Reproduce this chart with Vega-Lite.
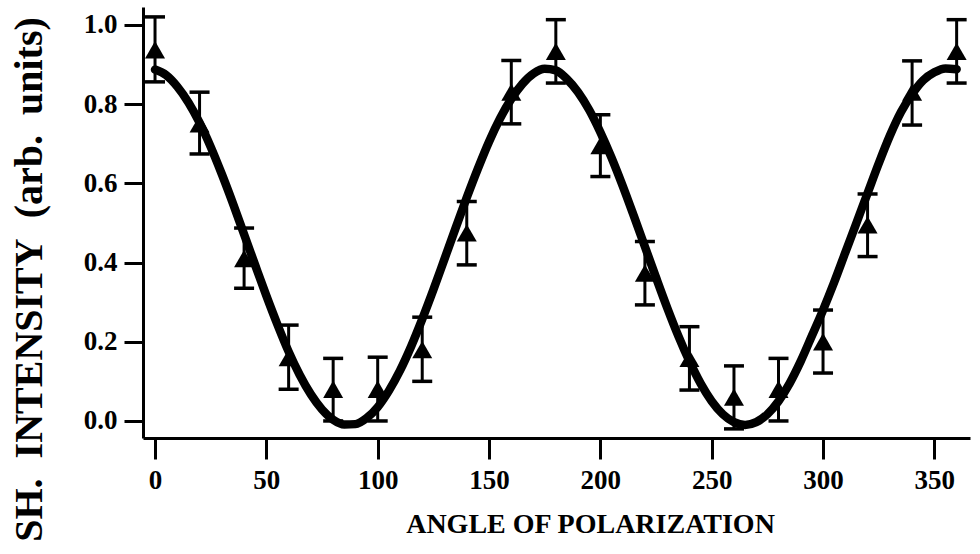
{
  "$schema": "https://vega.github.io/schema/vega-lite/v6.json",
  "autosize": {"type": "none"},
  "padding": {"left": 143, "top": 7, "right": 10, "bottom": 116},
  "width": 827,
  "height": 431,
  "background": "white",
  "config": {
    "view": {"stroke": null},
    "font": "Liberation Serif",
    "axis": {
      "grid": false,
      "domainColor": "black",
      "domainWidth": 3,
      "tickColor": "black",
      "tickWidth": 3,
      "labelColor": "black",
      "labelFont": "Liberation Serif",
      "labelFontWeight": "bold",
      "labelFontSize": 27,
      "titleColor": "black",
      "titleFont": "Liberation Serif",
      "titleFontWeight": "bold",
      "labelFlush": false,
      "labelOverlap": false
    }
  },
  "datasets": {
    "points": [
      {"angle": 0, "intensity": 0.937, "lo": 0.856, "hi": 1.02},
      {"angle": 20, "intensity": 0.75, "lo": 0.674, "hi": 0.83},
      {"angle": 40, "intensity": 0.41, "lo": 0.335, "hi": 0.487},
      {"angle": 60, "intensity": 0.16, "lo": 0.08, "hi": 0.242},
      {"angle": 80, "intensity": 0.08, "lo": 0.0, "hi": 0.158},
      {"angle": 100, "intensity": 0.08, "lo": 0.0, "hi": 0.161},
      {"angle": 120, "intensity": 0.18, "lo": 0.1, "hi": 0.262},
      {"angle": 140, "intensity": 0.475, "lo": 0.394, "hi": 0.554},
      {"angle": 160, "intensity": 0.83, "lo": 0.75, "hi": 0.91},
      {"angle": 180, "intensity": 0.933, "lo": 0.853, "hi": 1.013},
      {"angle": 200, "intensity": 0.695, "lo": 0.617, "hi": 0.773},
      {"angle": 220, "intensity": 0.373, "lo": 0.293, "hi": 0.453},
      {"angle": 240, "intensity": 0.158, "lo": 0.078, "hi": 0.238},
      {"angle": 260, "intensity": 0.06, "lo": -0.02, "hi": 0.139},
      {"angle": 280, "intensity": 0.08, "lo": 0.0, "hi": 0.158},
      {"angle": 300, "intensity": 0.2, "lo": 0.121, "hi": 0.28},
      {"angle": 320, "intensity": 0.495, "lo": 0.415, "hi": 0.573},
      {"angle": 340, "intensity": 0.83, "lo": 0.747, "hi": 0.909},
      {"angle": 360, "intensity": 0.933, "lo": 0.853, "hi": 1.013}
    ],
    "curve": [
      {"angle": 0, "fit": 0.887}, {"angle": 5, "fit": 0.873}, {"angle": 10, "fit": 0.844},
      {"angle": 15, "fit": 0.804}, {"angle": 20, "fit": 0.753}, {"angle": 25, "fit": 0.692},
      {"angle": 30, "fit": 0.623}, {"angle": 35, "fit": 0.549}, {"angle": 40, "fit": 0.471},
      {"angle": 45, "fit": 0.393}, {"angle": 50, "fit": 0.316}, {"angle": 55, "fit": 0.243},
      {"angle": 60, "fit": 0.175}, {"angle": 65, "fit": 0.116}, {"angle": 70, "fit": 0.067},
      {"angle": 75, "fit": 0.029}, {"angle": 80, "fit": 0.003}, {"angle": 85, "fit": -0.009},
      {"angle": 90, "fit": -0.008}, {"angle": 95, "fit": 0.007}, {"angle": 100, "fit": 0.035},
      {"angle": 105, "fit": 0.076}, {"angle": 110, "fit": 0.127}, {"angle": 115, "fit": 0.188},
      {"angle": 120, "fit": 0.257}, {"angle": 125, "fit": 0.331}, {"angle": 130, "fit": 0.409},
      {"angle": 135, "fit": 0.487}, {"angle": 140, "fit": 0.564}, {"angle": 145, "fit": 0.637},
      {"angle": 150, "fit": 0.705}, {"angle": 155, "fit": 0.764}, {"angle": 160, "fit": 0.813},
      {"angle": 165, "fit": 0.851}, {"angle": 170, "fit": 0.877}, {"angle": 175, "fit": 0.889},
      {"angle": 180, "fit": 0.885}, {"angle": 185, "fit": 0.863}, {"angle": 190, "fit": 0.83},
      {"angle": 195, "fit": 0.785}, {"angle": 200, "fit": 0.729}, {"angle": 205, "fit": 0.665},
      {"angle": 210, "fit": 0.594}, {"angle": 215, "fit": 0.518}, {"angle": 220, "fit": 0.44},
      {"angle": 225, "fit": 0.362}, {"angle": 230, "fit": 0.286}, {"angle": 235, "fit": 0.215},
      {"angle": 240, "fit": 0.151}, {"angle": 245, "fit": 0.095}, {"angle": 250, "fit": 0.05},
      {"angle": 255, "fit": 0.017}, {"angle": 260, "fit": -0.003}, {"angle": 265, "fit": -0.01},
      {"angle": 270, "fit": -0.003}, {"angle": 275, "fit": 0.017}, {"angle": 280, "fit": 0.05},
      {"angle": 285, "fit": 0.095}, {"angle": 290, "fit": 0.151}, {"angle": 295, "fit": 0.215},
      {"angle": 300, "fit": 0.28}, {"angle": 305, "fit": 0.35}, {"angle": 310, "fit": 0.425},
      {"angle": 315, "fit": 0.5}, {"angle": 320, "fit": 0.575}, {"angle": 325, "fit": 0.65},
      {"angle": 330, "fit": 0.72}, {"angle": 335, "fit": 0.78}, {"angle": 340, "fit": 0.825},
      {"angle": 345, "fit": 0.86}, {"angle": 350, "fit": 0.88}, {"angle": 355, "fit": 0.89},
      {"angle": 360, "fit": 0.888}
    ]
  },
  "encoding": {
    "x": {
      "field": "angle",
      "type": "quantitative",
      "scale": {"domain": [-5.4, 366], "nice": false, "zero": false},
      "axis": {
        "values": [0, 50, 100, 150, 200, 250, 300, 350],
        "tickSize": 21,
        "labelPadding": 8,
        "title": "ANGLE OF POLARIZATION",
        "titleFontSize": 28,
        "titleX": 447,
        "titleY": 86,
        "titleAlign": "center",
        "titleBaseline": "middle",
        "titleAnchor": null
      }
    }
  },
  "layer": [
    {
      "data": {"name": "curve"},
      "mark": {"type": "line", "color": "black", "strokeWidth": 8.5, "interpolate": "monotone", "strokeCap": "round", "strokeJoin": "round"},
      "encoding": {
        "y": {
          "field": "fit",
          "type": "quantitative",
          "scale": {"domain": [-0.043, 1.045], "nice": false, "zero": false},
          "axis": {
            "values": [0, 0.2, 0.4, 0.6, 0.8, 1.0],
            "format": ".1f",
            "tickSize": 19,
            "labelPadding": 7,
            "title": "SH.\u00a0\u00a0INTENSITY\u00a0\u00a0(arb.\u00a0\u00a0units)",
            "titleFontSize": 40,
            "titleAngle": 270,
            "titleX": -114,
            "titleY": 272,
            "titleAlign": "center",
            "titleBaseline": "middle",
            "titleAnchor": null
          }
        }
      }
    },
    {
      "data": {"name": "points"},
      "mark": {"type": "rule", "color": "black", "strokeWidth": 3},
      "encoding": {
        "y": {"field": "lo", "type": "quantitative"},
        "y2": {"field": "hi"}
      }
    },
    {
      "data": {"name": "points"},
      "mark": {"type": "tick", "color": "black", "orient": "horizontal", "size": 20, "thickness": 3.5, "opacity": 1},
      "encoding": {"y": {"field": "hi", "type": "quantitative"}}
    },
    {
      "data": {"name": "points"},
      "mark": {"type": "tick", "color": "black", "orient": "horizontal", "size": 20, "thickness": 3.5, "opacity": 1},
      "encoding": {"y": {"field": "lo", "type": "quantitative"}}
    },
    {
      "data": {"name": "points"},
      "mark": {"type": "point", "shape": "triangle-up", "filled": true, "color": "black", "opacity": 1, "size": 400},
      "encoding": {"y": {"field": "intensity", "type": "quantitative"}}
    }
  ]
}
